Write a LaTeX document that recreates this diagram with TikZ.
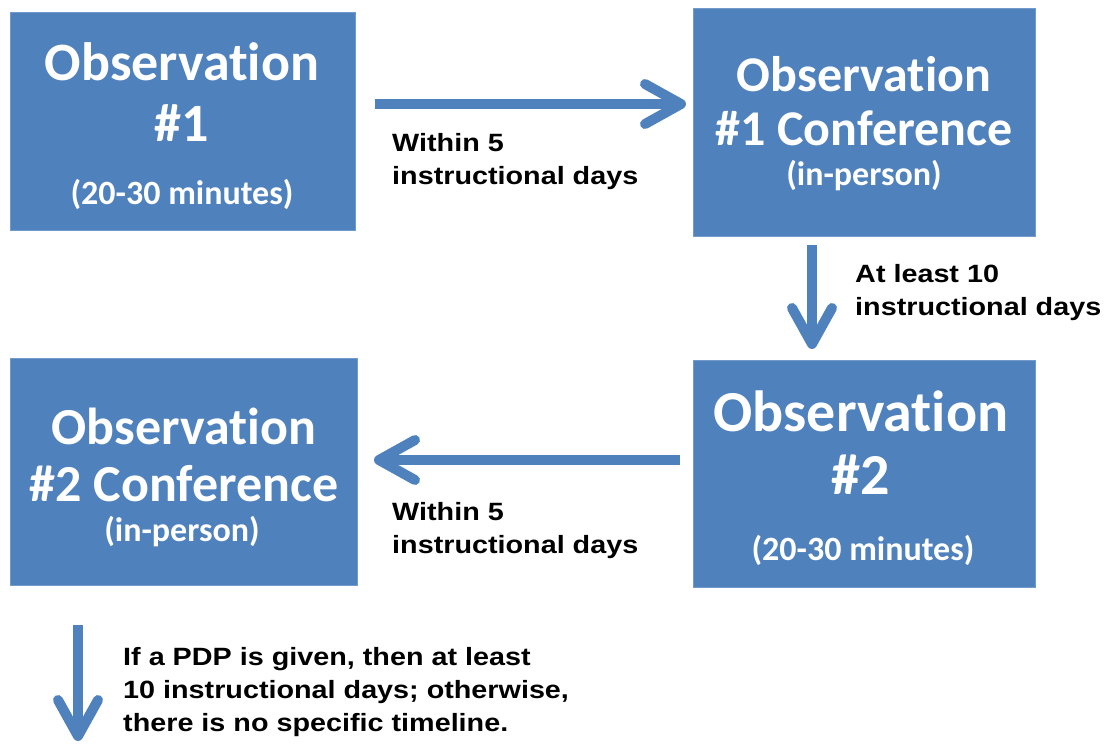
\documentclass[tikz,border=0pt]{standalone}
\usepackage{fontspec}
\setmainfont{Carlito}[Ligatures=NoCommon]
\newfontfamily\lblfont{Liberation Sans}
\usetikzlibrary{arrows.meta}
\definecolor{boxblue}{HTML}{4F81BD}
\tikzset{
  box/.style={draw=boxblue!80!white, line width=0.6pt, fill=boxblue, inner sep=0pt, anchor=north west},
  big/.style={text=white, inner sep=0pt, font=\fontsize{54}{60}\selectfont\bfseries},
  small/.style={text=white, inner sep=0pt, font=\fontsize{34}{40}\selectfont\bfseries},
  lbl/.style={inner sep=0pt, anchor=west, align=left, xscale=1.15, font=\lblfont\fontsize{25}{33}\selectfont\bfseries},
  arr/.style={draw=boxblue, line width=10pt, -{Straight Barb[round,length=36pt,width=40pt]}},
}
\begin{document}
\begin{tikzpicture}[x=1pt,y=-1pt]
\useasboundingbox (0,0) rectangle (1105,745);
% boxes
\node[box, minimum width=345pt, minimum height=218pt] (b1) at (10,12) {};
\node[box, minimum width=342pt, minimum height=228pt] (b2) at (693,8) {};
\node[box, minimum width=342pt, minimum height=227pt] (b3) at (693,360) {};
\node[box, minimum width=347pt, minimum height=227pt] (b4) at (10,358) {};
% box 1 text
\node[big] (t1a) at (182,62) {Observation};
\node[big] (t1b) at (182,123) {\#1};
\node[small] (t1c) at (182,194) {(20-30 minutes)};
% box 2 text
\node[big, font=\fontsize{50}{56}\selectfont\bfseries] (t2a) at (864,74) {Observation};
\node[big, font=\fontsize{50}{56}\selectfont\bfseries] (t2b) at (864,128) {\#1 Conference};
\node[small] (t2c) at (864,176) {(in-person)};
% box 3 text
\node[big, font=\fontsize{58}{64}\selectfont\bfseries] (t3a) at (861,411) {Observation};
\node[big, font=\fontsize{58}{64}\selectfont\bfseries] (t3b) at (861,475) {\#2};
\node[small] (t3c) at (863,550) {(20-30 minutes)};
% box 4 text
\node[big, font=\fontsize{52}{58}\selectfont\bfseries] (t4a) at (184,426) {Observation};
\node[big, font=\fontsize{52}{58}\selectfont\bfseries] (t4b) at (184,484) {\#2 Conference};
\node[small] (t4c) at (182,532) {(in-person)};
% arrows
\coordinate (a1s) at (375,104);
\coordinate (a1e) at (686,104);
\coordinate (a2s) at (812,245);
\coordinate (a2e) at (812,349);
\coordinate (a3s) at (680,460);
\coordinate (a3e) at (374,460);
\coordinate (a4s) at (78,625);
\coordinate (a4e) at (78,741);
\draw[arr] (a1s) -- (a1e);
\draw[arr] (a2s) -- (a2e);
\draw[arr] (a3s) -- (a3e);
\draw[arr] (a4s) -- (a4e);
% labels
\node[lbl] (l1) at (392,162) {Within 5\\instructional days};
\node[lbl] (l2) at (855,293) {At least 10\\instructional days};
\node[lbl] (l3) at (392,531) {Within 5\\instructional days};
\node[lbl] (l4) at (123,692) {If a PDP is given, then at least\\10 instructional days; otherwise,\\there is no specific timeline.};
\end{tikzpicture}
\end{document}
